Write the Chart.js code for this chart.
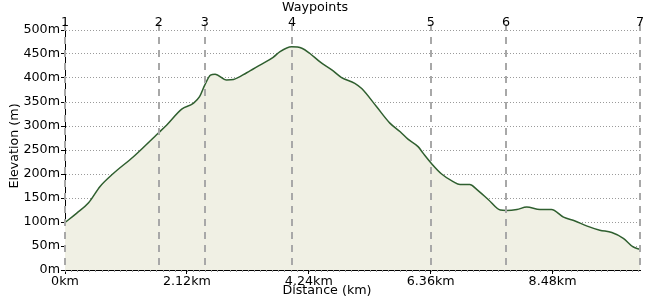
<!DOCTYPE html>
<html>
<head>
<meta charset="utf-8">
<script src="https://cdn.jsdelivr.net/npm/chart.js@4.4.1/dist/chart.umd.min.js"></script>
<style>
  body { margin: 0; background: #fff; }
  canvas { display: block; }
</style>
</head>
<body>
<canvas id="elevation-chart" width="650" height="300"></canvas>
<script>
// profile: distance (km) and elevation (m)
const distKm = [0, 0.20, 0.41, 0.61, 0.84, 1.19, 1.62, 1.77, 2.03, 2.23, 2.34, 2.43, 2.53, 2.61, 2.81, 2.93,
    3.16, 3.39, 3.62, 3.74, 3.94, 4.12, 4.26, 4.43, 4.64, 4.81, 5.04, 5.16, 5.42, 5.65, 5.83, 5.97,
    6.14, 6.23, 6.38, 6.55, 6.75, 6.87, 7.04, 7.16, 7.36, 7.57, 7.68, 7.86, 8.03, 8.26, 8.46, 8.67,
    8.87, 9.07, 9.30, 9.51, 9.71, 9.88, 10.0];
const elevM = [99, 118, 140, 174, 201, 236, 285, 302, 335, 347, 361, 385, 406, 408, 396, 397,
    411, 427, 443, 455, 465, 462, 451, 434, 417, 401, 389, 378, 340, 306, 288, 272,
    257, 243, 221, 200, 184, 178, 178, 168, 147, 125, 124, 126, 131, 126, 126, 110,
    102, 92, 83, 78, 66, 48, 43];

const waypointKm = [0, 1.63, 2.43, 3.95, 6.36, 7.67, 10.0];
const waypointLabels = ['1', '2', '3', '4', '5', '6', '7'];

const xTicks = [0, 2.12, 4.24, 6.36, 8.48];
const xMinorStep = 0.106;

const FONT = '12.7px "DejaVu Sans"';

Chart.defaults.font.family = '"DejaVu Sans", Verdana, sans-serif';
Chart.defaults.font.size = 12.7;
Chart.defaults.color = '#000';

const overlay = {
    id: 'overlay',
    afterDraw(chart) {
        const ctx = chart.ctx;
        const x = chart.scales.x;
        const area = chart.chartArea;
        ctx.save();

        // waypoint lines
        ctx.strokeStyle = '#a8a8a8';
        ctx.lineWidth = 2;
        ctx.setLineDash([7, 6]);
        waypointKm.forEach(d => {
            const px = Math.round(x.getPixelForValue(d));
            ctx.beginPath();
            ctx.moveTo(px, 24);
            ctx.lineTo(px, area.bottom);
            ctx.stroke();
        });
        ctx.setLineDash([]);

        // minor ticks under the x axis
        ctx.strokeStyle = '#999';
        ctx.lineWidth = 1;
        for (let d = 0; d <= x.max + 0.001; d += xMinorStep) {
            const px = Math.round(x.getPixelForValue(d)) + 0.5;
            ctx.beginPath();
            ctx.moveTo(px, area.bottom);
            ctx.lineTo(px, area.bottom + 2);
            ctx.stroke();
        }

        // texts
        ctx.fillStyle = '#000';
        ctx.font = FONT;
        ctx.textAlign = 'center';
        ctx.textBaseline = 'middle';
        waypointKm.forEach((d, i) => {
            ctx.fillText(waypointLabels[i], x.getPixelForValue(d), 23);
        });
        ctx.fillText('Waypoints', 315, 8);
        ctx.fillText('Distance (km)', 327, 291);

        ctx.translate(15, 146);
        ctx.rotate(-Math.PI / 2);
        ctx.fillText('Elevation (m)', 0, 0);
        ctx.restore();
    }
};

const ctx = document.getElementById('elevation-chart').getContext('2d');
new Chart(ctx, {
    type: 'line',
    data: {
        datasets: [{
            label: 'Elevation',
            data: distKm.map((d, i) => ({ x: d, y: elevM[i] })),
            borderColor: '#2f5f2f',
            borderWidth: 1.5,
            backgroundColor: '#f0f0e4',
            fill: 'start',
            pointRadius: 0,
            cubicInterpolationMode: 'monotone'
        }]
    },
    options: {
        responsive: false,
        animation: false,
        layout: { padding: { top: 30, right: 10, left: 0, bottom: 0 } },
        plugins: { legend: { display: false }, tooltip: { enabled: false } },
        scales: {
            x: {
                type: 'linear',
                min: 0,
                max: 10.0,
                afterFit: s => { s.height = 30; },
                afterBuildTicks: s => { s.ticks = xTicks.map(v => ({ value: v })); },
                ticks: {
                    padding: 0,
                    maxRotation: 0,
                    callback: v => v + 'km'
                },
                grid: { drawOnChartArea: false, tickLength: 4, tickColor: '#000' },
                border: { color: '#000', width: 1 }
            },
            y: {
                min: 0,
                max: 500,
                z: 1,
                afterFit: s => { s.width = 65; },
                ticks: { stepSize: 50, padding: 1, callback: v => v + 'm' },
                grid: { color: '#9a9a9a', tickLength: 4, tickColor: '#000', tickBorderDash: [] },
                border: { color: '#000', width: 1, dash: [1, 2] }
            }
        }
    },
    plugins: [overlay]
});
</script>
</body>
</html>
